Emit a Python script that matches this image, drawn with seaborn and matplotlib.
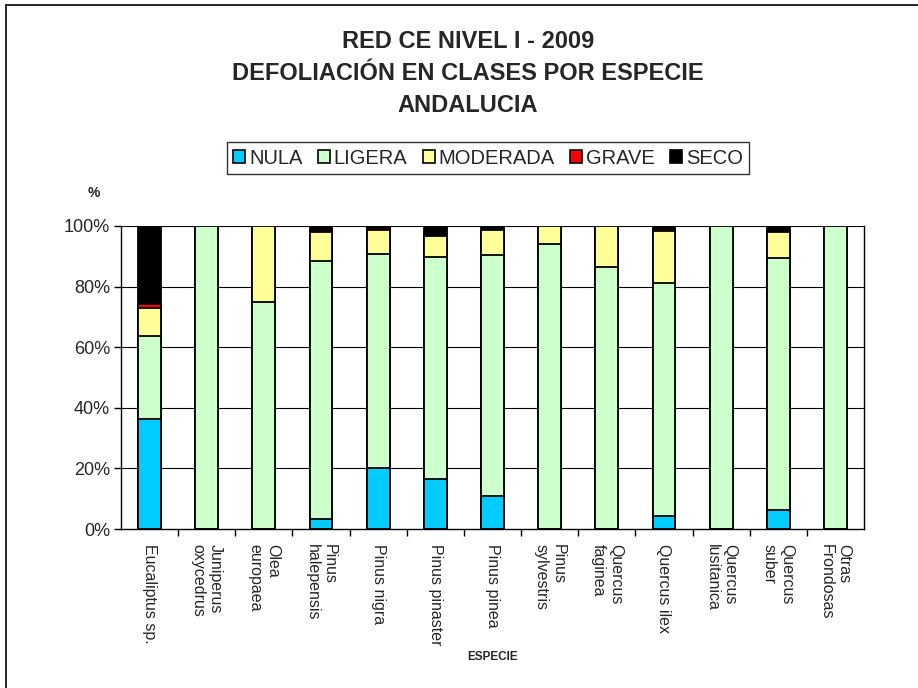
import matplotlib
matplotlib.use("Agg")
import matplotlib.pyplot as plt
import seaborn as sns
import pandas as pd
import numpy as np
from matplotlib.patches import Patch
from matplotlib.lines import Line2D
from matplotlib.ticker import FuncFormatter, FixedLocator

# ---------------- data ----------------
species = ["Eucaliptus sp.", "Juniperus\noxycedrus", "Olea\neuropaea", "Pinus\nhalepensis",
           "Pinus nigra", "Pinus pinaster", "Pinus pinea", "Pinus\nsylvestris",
           "Quercus\nfaginea", "Quercus ilex", "Quercus\nlusitanica", "Quercus\nsuber",
           "Otras\nFrondosas"]
nula     = [36.4, 0.0, 0.0, 3.3, 20.2, 16.6, 10.8, 0.0, 0.0, 4.2, 0.0, 6.2, 0.0]
ligera   = [27.3, 100.0, 75.0, 85.1, 70.7, 73.1, 79.5, 94.0, 86.4, 77.1, 100.0, 83.3, 100.0]
moderada = [9.1, 0.0, 25.0, 9.6, 7.8, 7.0, 8.5, 6.0, 13.6, 17.1, 0.0, 8.6, 0.0]
grave    = [1.3, 0.0, 0.0, 0.8, 0.7, 0.0, 0.0, 0.0, 0.0, 0.5, 0.0, 0.0, 0.0]
seco     = [25.9, 0.0, 0.0, 1.2, 0.6, 3.3, 1.2, 0.0, 0.0, 1.1, 0.0, 1.9, 0.0]
series_names = ["NULA", "LIGERA", "MODERADA", "GRAVE", "SECO"]
colors = ["#00CCFF", "#CCFFCC", "#FFFF99", "#FF0000", "#000000"]
yticks = [0, 20, 40, 60, 80, 100]

# ---------------- figure ----------------
sns.set_style("white")
plt.rcParams["font.family"] = ["Liberation Sans", "DejaVu Sans"]

fig = plt.figure(figsize=(9.18, 6.88), dpi=100)
ax = fig.add_axes([121/918, 1-529/688, (864-121)/918, (529-226)/688])

df = pd.DataFrame({"especie": species, "NULA": nula, "LIGERA": ligera,
                   "MODERADA": moderada, "GRAVE": grave, "SECO": seco})
cum = df[series_names].cumsum(axis=1)

ax.set_axisbelow(True)
for y in yticks[1:]:
    ax.axhline(y, color="#000000", lw=0.8, zorder=0)

# draw stacked by cumulative overlays (top-most first)
for i in range(len(series_names) - 1, -1, -1):
    name = series_names[i]
    d = pd.DataFrame({"especie": species, "val": cum[name].values})
    sns.barplot(data=d, x="especie", y="val", order=species, color=colors[i],
                saturation=1, width=0.4, edgecolor="black", linewidth=1.3,
                ax=ax, zorder=2)

ax.set_xlim(-0.5, len(species) - 0.5)
ax.set_ylim(0, 100)
ax.set_yticks(yticks)
ax.yaxis.set_major_formatter(FuncFormatter(lambda v, p: f"{v:.0f}%"))
ax.tick_params(axis="y", which="major", direction="out", length=5, width=1,
               color="black", labelsize=13, pad=3, left=True)

ax.set_xticks(range(len(species)))
ax.set_xticklabels(species, rotation=-90, ha="center", va="top",
                   multialignment="left", fontsize=11.5)
ax.tick_params(axis="x", which="major", length=0, pad=11)
ax.xaxis.set_minor_locator(FixedLocator(np.arange(0.5, len(species) - 0.5, 1)))
ax.tick_params(axis="x", which="minor", direction="out", length=5, width=1,
               color="black", bottom=True)

for side in ["left", "bottom", "right"]:
    ax.spines[side].set_visible(True)
    ax.spines[side].set_color("black")
    ax.spines[side].set_linewidth(1)
ax.spines["top"].set_visible(False)

ax.set_xlabel("ESPECIE", fontsize=8.5, fontweight="bold", labelpad=4)
ax.set_ylabel("")
fig.text(94/918, 1-193/688, "%", fontsize=10, fontweight="bold",
         ha="center", va="center")

# title
title_lines = ["RED CE NIVEL I - 2009", "DEFOLIACIÓN EN CLASES POR ESPECIE", "ANDALUCIA"]
for k, line in enumerate(title_lines):
    fig.text(468/918, 1-(42 + 31.5*k)/688, line, fontsize=17, fontweight="bold",
             ha="center", va="center")

# legend
handles = [Patch(facecolor=c, edgecolor="black", linewidth=1.2, label=n)
           for n, c in zip(series_names, colors)]
leg = fig.legend(handles=handles, loc="center", bbox_to_anchor=(488/918, 1-158/688),
                 ncol=5, frameon=True, fancybox=False, shadow=False,
                 fontsize=14.5, handlelength=0.6, handleheight=0.6,
                 handletextpad=0.2, columnspacing=0.75, borderpad=0.3,
                 edgecolor="black", borderaxespad=0)
leg.get_frame().set_linewidth(1)

# outer border (left and top)
fig.add_artist(Line2D([6/918, 6/918], [0, 1-5/688], transform=fig.transFigure,
                      color="black", lw=1.2))
fig.add_artist(Line2D([6/918, 1], [1-5/688, 1-5/688], transform=fig.transFigure,
                      color="black", lw=1.2))

fig.savefig("out.png", dpi=100, facecolor="white")
